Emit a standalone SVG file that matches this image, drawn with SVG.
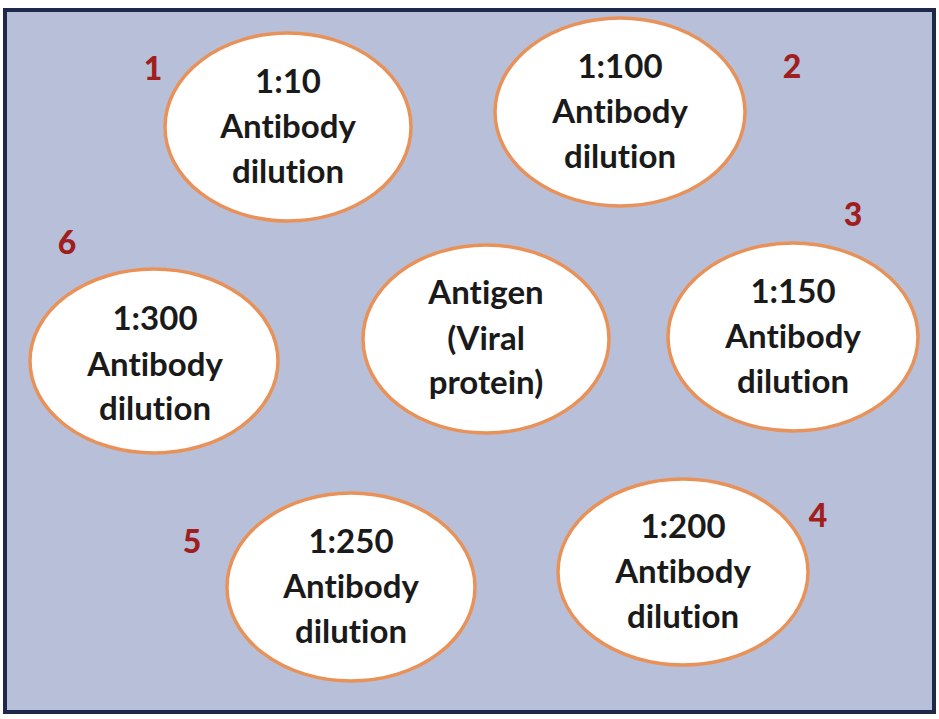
<svg xmlns="http://www.w3.org/2000/svg" width="939" height="719" viewBox="0 0 939 719">
<style>
.bg{fill:#b8c0d9;stroke:#1e2848;stroke-width:4}
.node ellipse{fill:#ffffff;stroke:#e8925a;stroke-width:3.5}
.lbl{font-family:Lato,"Open Sans",sans-serif;font-weight:bold;font-size:33px;fill:#1a1a1a;text-anchor:middle;font-variant-ligatures:none}
.num{font-family:Lato,"Open Sans",sans-serif;font-weight:900;font-size:32px;fill:#a01e1e;text-anchor:middle}
</style>
<rect width="939" height="719" fill="#ffffff"/>
<rect class="bg" x="5" y="10" width="929" height="702"/>
<g id="connectors"/>
<g id="node1" class="node">
<ellipse cx="288" cy="127" rx="123" ry="94"/>
<text class="lbl" x="288" y="93">1:10</text>
<text class="lbl" x="288" y="138">Antibody</text>
<text class="lbl" x="288" y="183">dilution</text>
</g>
<g id="node2" class="node">
<ellipse cx="620" cy="112" rx="125" ry="94"/>
<text class="lbl" x="620" y="78">1:100</text>
<text class="lbl" x="620" y="123">Antibody</text>
<text class="lbl" x="620" y="168">dilution</text>
</g>
<g id="node3" class="node">
<ellipse cx="793" cy="337" rx="125" ry="94"/>
<text class="lbl" x="793" y="303">1:150</text>
<text class="lbl" x="793" y="348">Antibody</text>
<text class="lbl" x="793" y="393">dilution</text>
</g>
<g id="node4" class="node">
<ellipse cx="683" cy="572" rx="125" ry="93"/>
<text class="lbl" x="683" y="538">1:200</text>
<text class="lbl" x="683" y="583">Antibody</text>
<text class="lbl" x="683" y="628">dilution</text>
</g>
<g id="node5" class="node">
<ellipse cx="351" cy="587" rx="124" ry="94"/>
<text class="lbl" x="351" y="553">1:250</text>
<text class="lbl" x="351" y="598">Antibody</text>
<text class="lbl" x="351" y="643">dilution</text>
</g>
<g id="node6" class="node">
<ellipse cx="154" cy="361" rx="124" ry="92"/>
<text class="lbl" x="155" y="330">1:300</text>
<text class="lbl" x="155" y="376">Antibody</text>
<text class="lbl" x="155" y="420">dilution</text>
</g>
<g id="antigen" class="node">
<ellipse cx="486" cy="339" rx="123" ry="94"/>
<text class="lbl" x="486" y="304">Antigen</text>
<text class="lbl" x="486" y="350">(Viral</text>
<text class="lbl" x="486" y="394">protein)</text>
</g>
<g id="numbers">
<text class="num" x="153" y="80">1</text>
<text class="num" x="792" y="78">2</text>
<text class="num" x="853" y="226">3</text>
<text class="num" x="818" y="527">4</text>
<text class="num" x="192" y="553">5</text>
<text class="num" x="67" y="254">6</text>
</g>
</svg>
